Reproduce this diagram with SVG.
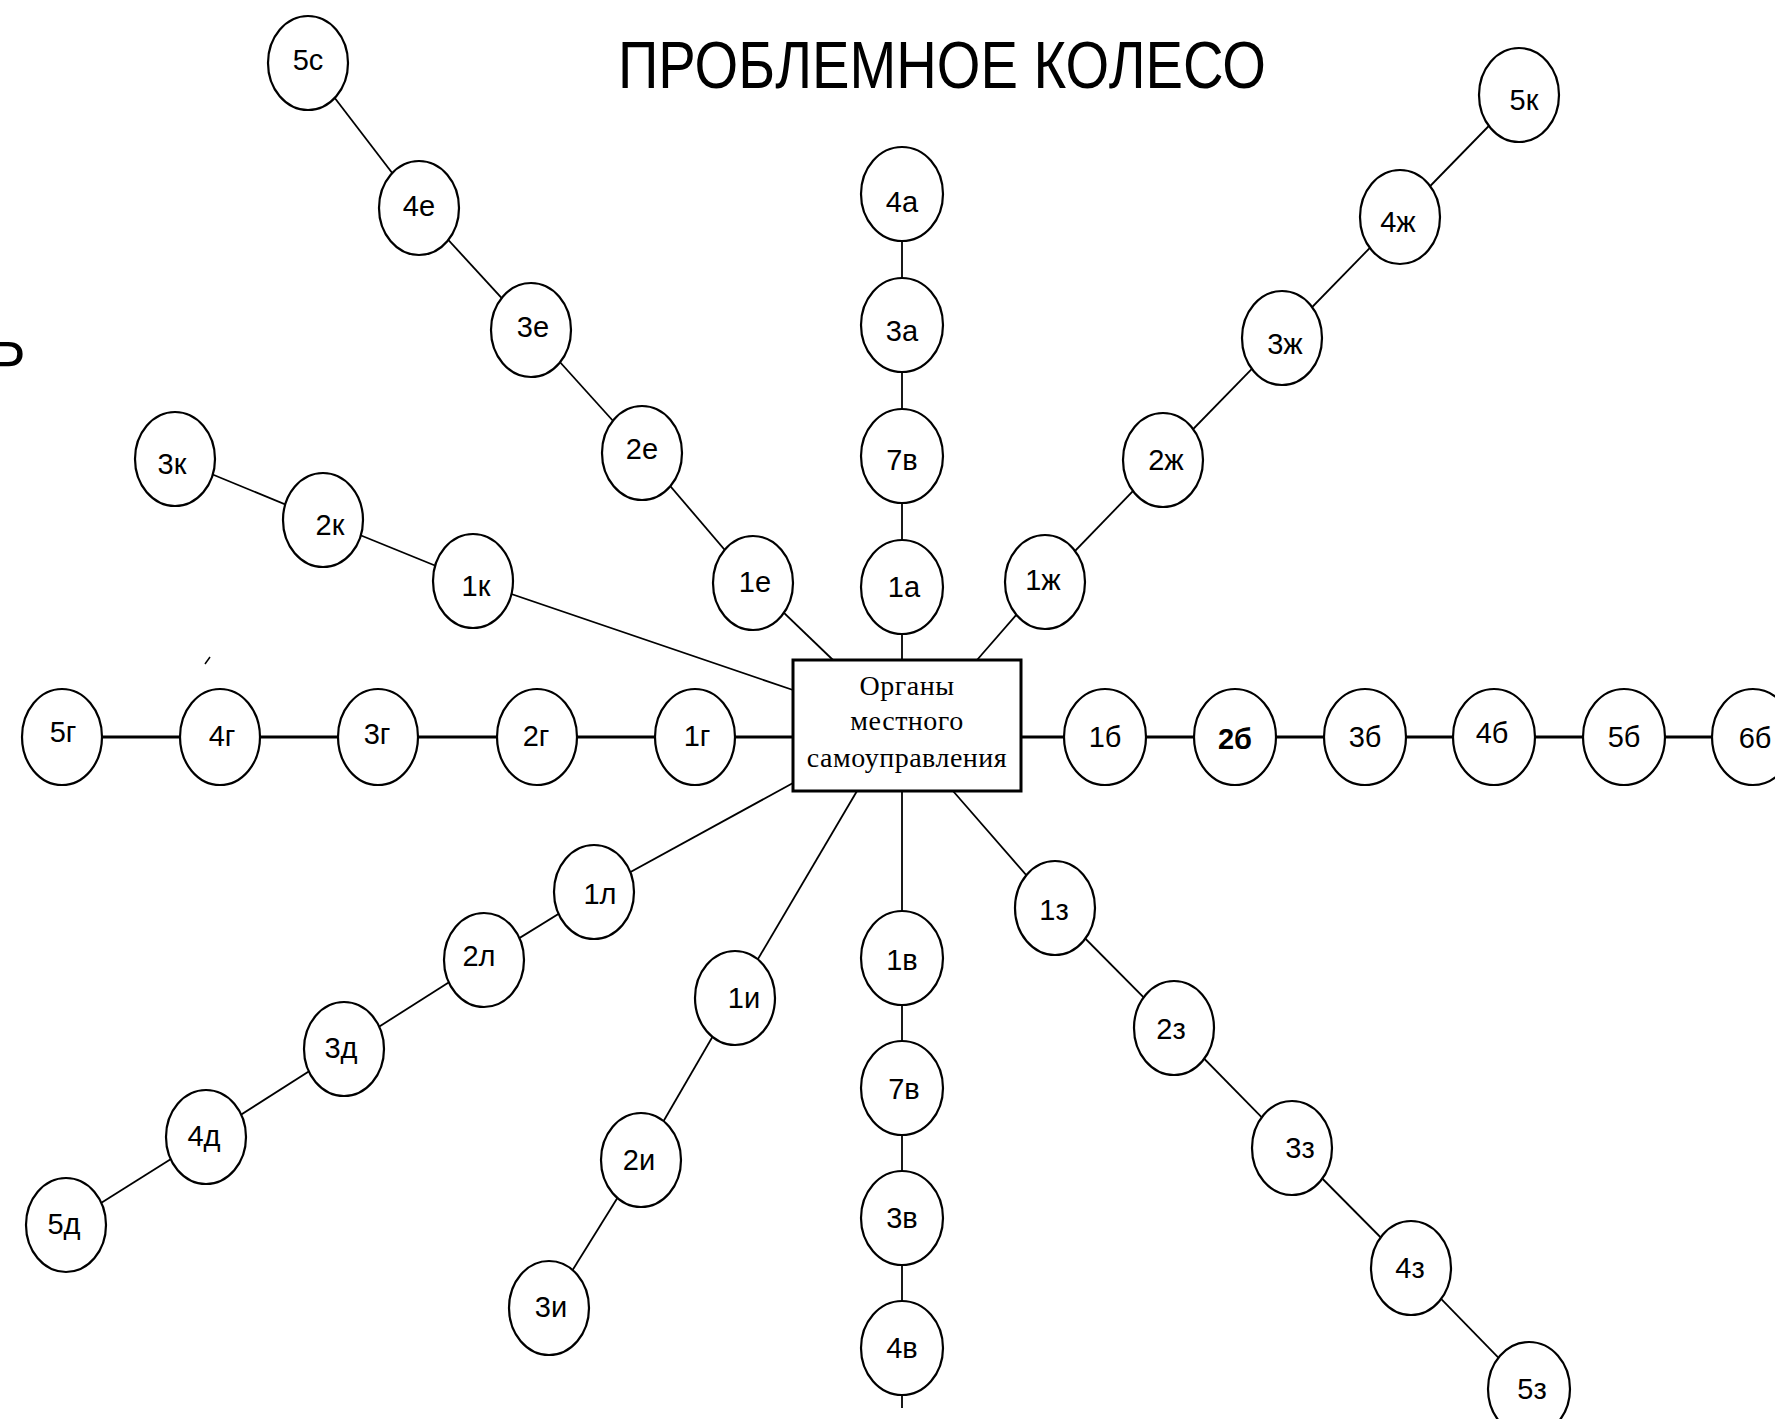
<svg xmlns="http://www.w3.org/2000/svg" width="1775" height="1419" viewBox="0 0 1775 1419">
  <style>
    .bg { fill: #ffffff; }
    .node ellipse { fill: #ffffff; stroke: #000000; stroke-width: 2.2; }
    .node text { font-family: "Liberation Sans", Arial, sans-serif; font-size: 29px; fill: #000000; text-anchor: middle; }
    .edges line { stroke: #000000; stroke-width: 1.8; }
    .edges line.thick { stroke-width: 3; }
    .hub rect { fill: #ffffff; stroke: #000000; stroke-width: 3; }
    .hub text { font-family: "Liberation Serif", "Times New Roman", serif; font-size: 28px; fill: #000000; text-anchor: middle; letter-spacing: 0.5px; }
    .title { font-family: "Liberation Sans", Arial, sans-serif; font-size: 66px; fill: #000000; }
  </style>

  <rect class="bg" x="0" y="0" width="1775" height="1419"/>

  <!-- heading -->
  <text class="title" x="618" y="88" textLength="648" lengthAdjust="spacingAndGlyphs">ПРОБЛЕМНОЕ КОЛЕСО</text>

  <!-- clipped letter at the left margin and a small stray tick -->
  <text x="-13" y="382" font-family="'Liberation Sans', Arial, sans-serif" font-size="58" fill="#000000">Р</text>
  <line x1="205" y1="664" x2="210" y2="657" stroke="#000000" stroke-width="1.5"/>

  <!-- connectors (drawn first, ellipses and hub cover the inner ends) -->
  <g id="connectors" class="edges">
    <!-- е branch -->
    <line x1="308" y1="63" x2="419" y2="208"/>
    <line x1="419" y1="208" x2="531" y2="330"/>
    <line x1="531" y1="330" x2="642" y2="453"/>
    <line x1="642" y1="453" x2="753" y2="583"/>
    <line x1="753" y1="583" x2="833" y2="660"/>
    <!-- а branch -->
    <line x1="902" y1="194" x2="902" y2="660"/>
    <!-- ж branch -->
    <line x1="1519" y1="95" x2="1400" y2="217"/>
    <line x1="1400" y1="217" x2="1282" y2="338"/>
    <line x1="1282" y1="338" x2="1163" y2="460"/>
    <line x1="1163" y1="460" x2="1045" y2="582"/>
    <line x1="1045" y1="582" x2="977" y2="660"/>
    <!-- к branch -->
    <line x1="175" y1="459" x2="323" y2="520"/>
    <line x1="323" y1="520" x2="473" y2="581"/>
    <line x1="473" y1="581" x2="793" y2="690"/>
    <!-- г branch -->
    <line class="thick" x1="62" y1="737" x2="793" y2="737"/>
    <!-- б branch -->
    <line class="thick" x1="1021" y1="737" x2="1753" y2="737"/>
    <!-- л / д branch -->
    <line x1="793" y1="783" x2="594" y2="892"/>
    <line x1="594" y1="892" x2="484" y2="960"/>
    <line x1="484" y1="960" x2="344" y2="1049"/>
    <line x1="344" y1="1049" x2="206" y2="1137"/>
    <line x1="206" y1="1137" x2="66" y2="1225"/>
    <!-- и branch -->
    <line x1="857" y1="791" x2="735" y2="998"/>
    <line x1="735" y1="998" x2="641" y2="1160"/>
    <line x1="641" y1="1160" x2="549" y2="1308"/>
    <!-- в branch -->
    <line x1="902" y1="791" x2="902" y2="1408"/>
    <!-- з branch -->
    <line x1="953" y1="791" x2="1055" y2="908"/>
    <line x1="1055" y1="908" x2="1174" y2="1028"/>
    <line x1="1174" y1="1028" x2="1292" y2="1148"/>
    <line x1="1292" y1="1148" x2="1411" y2="1268"/>
    <line x1="1411" y1="1268" x2="1529" y2="1389"/>
  </g>

  <!-- central block -->
  <g id="hub" class="hub">
    <rect x="793" y="660" width="228" height="131"/>
    <text x="907" y="695">Органы</text>
    <text x="907" y="730">местного</text>
    <text x="907" y="767">самоуправления</text>
  </g>

  <!-- е branch -->
  <g id="n5s" class="node"><ellipse cx="308" cy="63" rx="40" ry="47"/><text x="308" y="70">5с</text></g>
  <g id="n4e" class="node"><ellipse cx="419" cy="208" rx="40" ry="47"/><text x="419" y="216">4е</text></g>
  <g id="n3e" class="node"><ellipse cx="531" cy="330" rx="40" ry="47"/><text x="533" y="337">3е</text></g>
  <g id="n2e" class="node"><ellipse cx="642" cy="453" rx="40" ry="47"/><text x="642" y="459">2е</text></g>
  <g id="n1e" class="node"><ellipse cx="753" cy="583" rx="40" ry="47"/><text x="755" y="592">1е</text></g>

  <!-- а branch -->
  <g id="n4a" class="node"><ellipse cx="902" cy="194" rx="41" ry="47"/><text x="902" y="212">4а</text></g>
  <g id="n3a" class="node"><ellipse cx="902" cy="325" rx="41" ry="47"/><text x="902" y="341">3а</text></g>
  <g id="n2a" class="node"><ellipse cx="902" cy="456" rx="41" ry="47"/><text x="902" y="470">7в</text></g>
  <g id="n1a" class="node"><ellipse cx="902" cy="587" rx="41" ry="47"/><text x="904" y="597">1а</text></g>

  <!-- ж branch -->
  <g id="n5k" class="node"><ellipse cx="1519" cy="95" rx="40" ry="47"/><text x="1524" y="110">5к</text></g>
  <g id="n4zh" class="node"><ellipse cx="1400" cy="217" rx="40" ry="47"/><text x="1398" y="232">4ж</text></g>
  <g id="n3zh" class="node"><ellipse cx="1282" cy="338" rx="40" ry="47"/><text x="1285" y="354">3ж</text></g>
  <g id="n2zh" class="node"><ellipse cx="1163" cy="460" rx="40" ry="47"/><text x="1166" y="470">2ж</text></g>
  <g id="n1zh" class="node"><ellipse cx="1045" cy="582" rx="40" ry="47"/><text x="1043" y="590">1ж</text></g>

  <!-- к branch -->
  <g id="n3k" class="node"><ellipse cx="175" cy="459" rx="40" ry="47"/><text x="172" y="474">3к</text></g>
  <g id="n2k" class="node"><ellipse cx="323" cy="520" rx="40" ry="47"/><text x="330" y="535">2к</text></g>
  <g id="n1k" class="node"><ellipse cx="473" cy="581" rx="40" ry="47"/><text x="476" y="596">1к</text></g>

  <!-- г branch -->
  <g id="n5g" class="node"><ellipse cx="62" cy="737" rx="40" ry="48"/><text x="63" y="742">5г</text></g>
  <g id="n4g" class="node"><ellipse cx="220" cy="737" rx="40" ry="48"/><text x="222" y="746">4г</text></g>
  <g id="n3g" class="node"><ellipse cx="378" cy="737" rx="40" ry="48"/><text x="377" y="744">3г</text></g>
  <g id="n2g" class="node"><ellipse cx="537" cy="737" rx="40" ry="48"/><text x="536" y="746">2г</text></g>
  <g id="n1g" class="node"><ellipse cx="695" cy="737" rx="40" ry="48"/><text x="697" y="746">1г</text></g>

  <!-- б branch -->
  <g id="n1b" class="node"><ellipse cx="1105" cy="737" rx="41" ry="48"/><text x="1105" y="747">1б</text></g>
  <g id="n2b" class="node"><ellipse cx="1235" cy="737" rx="41" ry="48"/><text x="1235" y="749" font-weight="bold">2б</text></g>
  <g id="n3b" class="node"><ellipse cx="1365" cy="737" rx="41" ry="48"/><text x="1365" y="747">3б</text></g>
  <g id="n4b" class="node"><ellipse cx="1494" cy="737" rx="41" ry="48"/><text x="1492" y="743">4б</text></g>
  <g id="n5b" class="node"><ellipse cx="1624" cy="737" rx="41" ry="48"/><text x="1624" y="747">5б</text></g>
  <g id="n6b" class="node"><ellipse cx="1753" cy="737" rx="41" ry="48"/><text x="1755" y="748" font-family="'Liberation Serif', serif">6б</text></g>

  <!-- л / д branch -->
  <g id="n1l" class="node"><ellipse cx="594" cy="892" rx="40" ry="47"/><text x="600" y="904">1л</text></g>
  <g id="n2l" class="node"><ellipse cx="484" cy="960" rx="40" ry="47"/><text x="479" y="966">2л</text></g>
  <g id="n3d" class="node"><ellipse cx="344" cy="1049" rx="40" ry="47"/><text x="341" y="1058">3д</text></g>
  <g id="n4d" class="node"><ellipse cx="206" cy="1137" rx="40" ry="47"/><text x="204" y="1146">4д</text></g>
  <g id="n5d" class="node"><ellipse cx="66" cy="1225" rx="40" ry="47"/><text x="64" y="1234">5д</text></g>

  <!-- и branch -->
  <g id="n1i" class="node"><ellipse cx="735" cy="998" rx="40" ry="47"/><text x="744" y="1008">1и</text></g>
  <g id="n2i" class="node"><ellipse cx="641" cy="1160" rx="40" ry="47"/><text x="639" y="1170">2и</text></g>
  <g id="n3i" class="node"><ellipse cx="549" cy="1308" rx="40" ry="47"/><text x="551" y="1317">3и</text></g>

  <!-- в branch -->
  <g id="n1v" class="node"><ellipse cx="902" cy="958" rx="41" ry="47"/><text x="902" y="970">1в</text></g>
  <g id="n2v" class="node"><ellipse cx="902" cy="1088" rx="41" ry="47"/><text x="904" y="1099">7в</text></g>
  <g id="n3v" class="node"><ellipse cx="902" cy="1218" rx="41" ry="47"/><text x="902" y="1228">3в</text></g>
  <g id="n4v" class="node"><ellipse cx="902" cy="1348" rx="41" ry="47"/><text x="902" y="1358">4в</text></g>

  <!-- з branch -->
  <g id="n1z" class="node"><ellipse cx="1055" cy="908" rx="40" ry="47"/><text x="1054" y="920">1з</text></g>
  <g id="n2z" class="node"><ellipse cx="1174" cy="1028" rx="40" ry="47"/><text x="1171" y="1039">2з</text></g>
  <g id="n3z" class="node"><ellipse cx="1292" cy="1148" rx="40" ry="47"/><text x="1300" y="1158">3з</text></g>
  <g id="n4z" class="node"><ellipse cx="1411" cy="1268" rx="40" ry="47"/><text x="1410" y="1278">4з</text></g>
  <g id="n5z" class="node"><ellipse cx="1529" cy="1389" rx="41" ry="47"/><text x="1532" y="1399">5з</text></g>
</svg>
